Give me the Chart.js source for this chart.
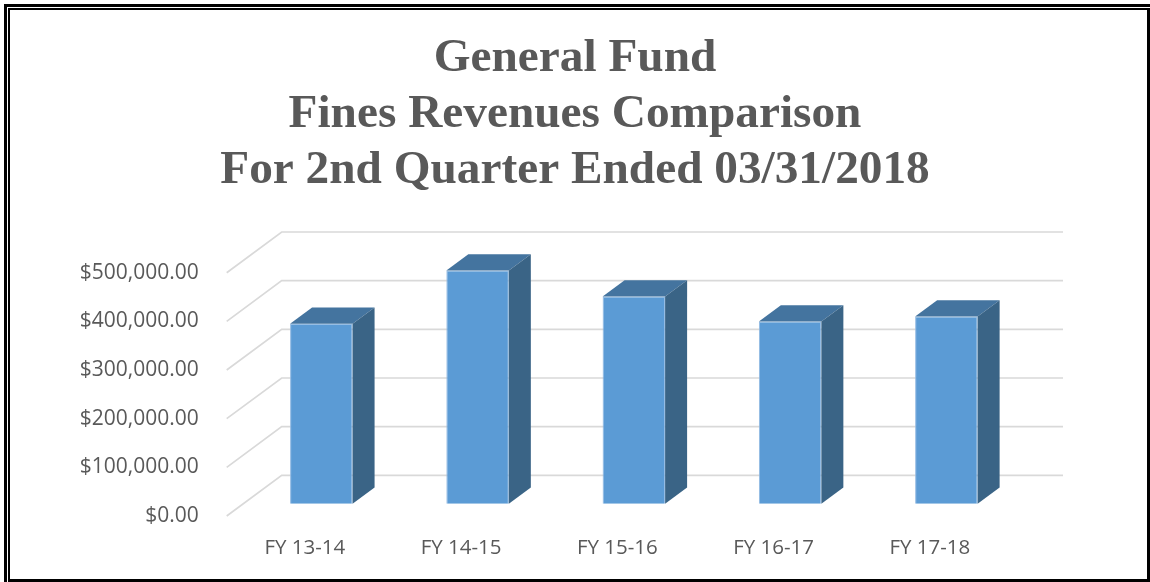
<!DOCTYPE html>
<html>
<head>
<meta charset="utf-8">
<script src="https://cdn.jsdelivr.net/npm/chart.js@4.4.1/dist/chart.umd.min.js"></script>
<style>
    html, body { margin: 0; padding: 0; background: #fff; }
    #wrap { position: relative; width: 1150px; height: 582px; overflow: hidden; }
    #wrap canvas { position: absolute; left: 0; top: 0; }
    .ln { position: absolute; background: #000; }
</style>
</head>
<body>
<div id="wrap">
    <canvas id="finesChart" width="1150" height="582"></canvas>
    <div class="ln" style="left:4px;top:4px;width:3px;height:578px"></div>
    <div class="ln" style="left:4px;top:4px;width:1146px;height:3px"></div>
    <div class="ln" style="left:8px;top:8px;width:2px;height:574px"></div>
    <div class="ln" style="left:8px;top:8px;width:1142px;height:2px"></div>
    <div class="ln" style="left:1147px;top:8px;width:3px;height:574px"></div>
    <div class="ln" style="left:8px;top:579px;width:1142px;height:3px"></div>
</div>
<script>
const categories = ['FY 13-14', 'FY 14-15', 'FY 15-16', 'FY 16-17', 'FY 17-18'];
const revenues = [370000, 479500, 426000, 374600, 385000];
const yTickValues = [0, 100000, 200000, 300000, 400000, 500000];
const yTickLabels = ['$0.00', '$100,000.00', '$200,000.00', '$300,000.00', '$400,000.00', '$500,000.00'];
const titleLines = ['General Fund', 'Fines Revenues Comparison', 'For 2nd Quarter Ended 03/31/2018'];

// depth of the 3d box (back wall offset) and where the bars sit inside it
const DEPTH_X = 55;
const DEPTH_Y = -40.7;
const BAR_FRONT = 0.3;
const BAR_DEPTH = 0.4;

const gridColor = '#d9d9d9';
const frontColor = '#5b9bd5';
const topColor = '#44749f';
const sideColor = '#3a6486';

const threeD = {
    id: 'threeD',
    beforeDatasetsDraw(chart) {
        const ctx = chart.ctx;
        const area = chart.chartArea;
        const y = chart.scales.y;
        ctx.save();
        ctx.strokeStyle = gridColor;
        ctx.lineWidth = 1.7;
        yTickValues.forEach(v => {
            const py = y.getPixelForValue(v);
            ctx.beginPath();
            ctx.moveTo(area.left, py);
            ctx.lineTo(area.left + DEPTH_X, py + DEPTH_Y);
            ctx.lineTo(area.right + DEPTH_X, py + DEPTH_Y);
            ctx.stroke();
        });
        ctx.restore();
        // front faces get pushed back into the box
        ctx.save();
        ctx.translate(DEPTH_X * BAR_FRONT, DEPTH_Y * BAR_FRONT);
    },
    afterDatasetsDraw(chart) {
        const ctx = chart.ctx;
        ctx.restore();
        const ox = DEPTH_X * BAR_FRONT, oy = DEPTH_Y * BAR_FRONT;
        const bx = DEPTH_X * BAR_DEPTH, by = DEPTH_Y * BAR_DEPTH;
        chart.getDatasetMeta(0).data.forEach(bar => {
            const p = bar.getProps(['x', 'y', 'base', 'width'], true);
            const l = p.x - p.width / 2 + ox;
            const r = p.x + p.width / 2 + ox;
            const t = p.y + oy;
            const b = p.base + oy;
            ctx.save();
            ctx.fillStyle = topColor;
            ctx.beginPath();
            ctx.moveTo(l, t);
            ctx.lineTo(l + bx, t + by);
            ctx.lineTo(r + bx, t + by);
            ctx.lineTo(r, t);
            ctx.closePath();
            ctx.fill();
            ctx.fillStyle = sideColor;
            ctx.beginPath();
            ctx.moveTo(r, t);
            ctx.lineTo(r + bx, t + by);
            ctx.lineTo(r + bx, b + by);
            ctx.lineTo(r, b);
            ctx.closePath();
            ctx.fill();
            ctx.restore();
        });
    }
};

const ctx = document.getElementById('finesChart').getContext('2d');
const finesChart = new Chart(ctx, {
    type: 'bar',
    data: {
        labels: categories,
        datasets: [{
            label: 'Fines Revenues',
            data: revenues,
            backgroundColor: frontColor,
            borderColor: '#8fb8e2',
            borderWidth: 1,
            categoryPercentage: 1,
            barPercentage: 0.4,
            clip: false
        }]
    },
    options: {
        responsive: false,
        animation: false,
        layout: { padding: 0 },
        plugins: {
            legend: { display: false },
            tooltip: { enabled: false },
            title: {
                display: true,
                text: titleLines,
                color: '#595959',
                font: { family: '"Liberation Serif", "Times New Roman", serif', size: 47.3, weight: 'bold', lineHeight: '56px' },
                padding: { top: 30.5, bottom: 74.2 }
            }
        },
        scales: {
            x: {
                grid: { display: false },
                border: { display: false },
                ticks: {
                    color: '#595959',
                    font: { family: '"Open Sans", sans-serif', size: 20.5 },
                    padding: 12,
                    maxRotation: 0
                },
                afterFit: s => { s.height = 66; }
            },
            y: {
                min: 0,
                max: 500000,
                grid: { display: false },
                border: { display: false },
                afterBuildTicks: s => { s.ticks = yTickValues.map(v => ({ value: v })); },
                ticks: {
                    color: '#595959',
                    font: { family: '"Open Sans", sans-serif', size: 21 },
                    padding: 20,
                    callback: (v, i) => yTickLabels[i]
                },
                afterFit: s => { s.width = 226.7; }
            },
            // empty right-hand axis: room for the back wall, keeps the title centred on the page
            spacer: {
                position: 'right',
                grid: { display: false },
                border: { display: false },
                ticks: { display: false },
                afterFit: s => { s.width = 142; }
            }
        }
    },
    plugins: [threeD]
});
</script>
</body>
</html>
